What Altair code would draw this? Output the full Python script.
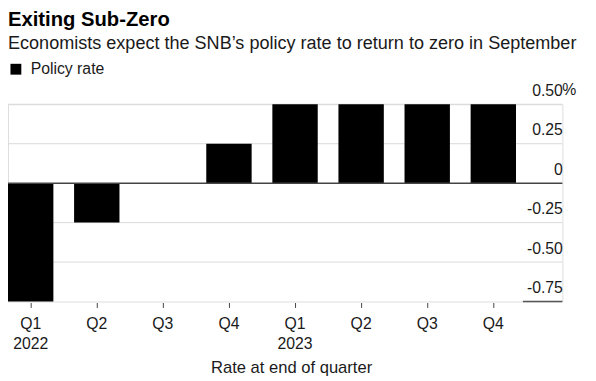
import altair as alt
import pandas as pd

# ---- data ----
quarters = ["Q1", "Q2", "Q3", "Q4", "Q1", "Q2", "Q3", "Q4"]
years = ["2022", "2022", "2022", "2022", "2023", "2023", "2023", "2023"]
rates = [-0.75, -0.25, 0.0, 0.25, 0.5, 0.5, 0.5, 0.5]
y_ticks = [0.5, 0.25, 0, -0.25, -0.5, -0.75]
grid_vals = [0.5, 0.25, -0.25, -0.5]
series_name = "Policy rate"

FONT = "Liberation Sans"
TXT = "#1a1a1a"
W, H = 562, 200

keys = [f"{q} {y}" for q, y in zip(quarters, years)]
df = pd.DataFrame({"period": keys, "rate": rates, "series": [series_name] * len(keys)})

yscale = alt.Scale(domain=[min(y_ticks), max(y_ticks)], nice=False, zero=False)
xscale = alt.Scale(domain=keys, paddingInner=0.3134, paddingOuter=0.3507, align=0)

y_label_expr = ("datum.value == 0 ? '0' : (datum.value < 0 ? '-' : '') + "
                "format(abs(datum.value), '.2f')")
x_label_expr = ("indexof(datum.value, 'Q1') == 0 ? split(datum.value, ' ') : "
                "slice(datum.value, 0, 2)")

y_axis = alt.Axis(orient="right", values=y_ticks, grid=False, domain=False,
                  ticks=False, tickSize=0, labelPadding=0,
                  labelAlign="right", labelBaseline="alphabetic",
                  labelOffset=-9, labelFontSize=16, labelFont=FONT,
                  labelColor=TXT, labelFlush=False, title=None,
                  labelExpr=y_label_expr)


def yenc():
    return alt.Y("rate:Q", scale=yscale, axis=y_axis)


grid = alt.Chart(pd.DataFrame({"rate": grid_vals})).mark_rule(
    color="#d9d9d9", strokeWidth=1
).encode(y=yenc())

bars = alt.Chart(df).mark_bar().encode(
    x=alt.X("period:N", scale=xscale, sort=keys,
            axis=alt.Axis(orient="bottom", domain=False, grid=False, ticks=True,
                          tickSize=5, tickColor="#444", tickWidth=1, offset=1,
                          labelPadding=8, labelFontSize=16, labelFont=FONT,
                          labelColor=TXT, labelLineHeight=21, labelAngle=0,
                          labelExpr=x_label_expr,
                          title="Rate at end of quarter", titleX=287, titleY=71,
                          titleAlign="center", titleBaseline="alphabetic",
                          titleFontSize=16.8, titleFontWeight="normal",
                          titleFont=FONT, titleColor=TXT)),
    y=yenc(),
    color=alt.Color("series:N", scale=alt.Scale(range=["#000000"]),
                    legend=alt.Legend(orient="none", legendX=0, legendY=-43.5,
                                      title=None, symbolType="square",
                                      symbolSize=121, symbolStrokeWidth=0,
                                      labelFontSize=16, labelFont=FONT,
                                      labelOffset=7, labelColor=TXT)),
)

zero = alt.Chart(pd.DataFrame({"rate": [0]})).mark_rule(
    color="#444", strokeWidth=1.5
).encode(y=yenc())

bottom = alt.Chart(pd.DataFrame({"rate": [min(y_ticks)]})).mark_rule(
    color="#555", strokeWidth=1.5
).encode(y=yenc(), x=alt.value(W - 40), x2=alt.value(W))

pct = alt.Chart(pd.DataFrame({"rate": [max(y_ticks)], "t": ["%"]})).mark_text(
    align="left", baseline="alphabetic", dy=-9, fontSize=16, font=FONT, color=TXT
).encode(y=yenc(), x=alt.value(W), text="t:N")

chart = alt.layer(grid, bars, zero, bottom, pct).properties(
    width=W, height=H,
    autosize="none",
    padding={"left": 0, "top": 95, "right": 26, "bottom": 78},
    title=alt.TitleParams(
        "Exiting Sub-Zero",
        subtitle=["Economists expect the SNB\u2019s policy rate to return to zero in September"],
        anchor="start", frame="group", font=FONT, fontSize=20.5, fontWeight="bold",
        color="#000", subtitleFont=FONT, subtitleFontSize=18.3,
        subtitleColor=TXT, offset=9, subtitlePadding=5,
    ),
).configure_view(stroke=None).configure(background="white")

chart.save("out.html", embed_options={"renderer": "svg", "actions": False})
